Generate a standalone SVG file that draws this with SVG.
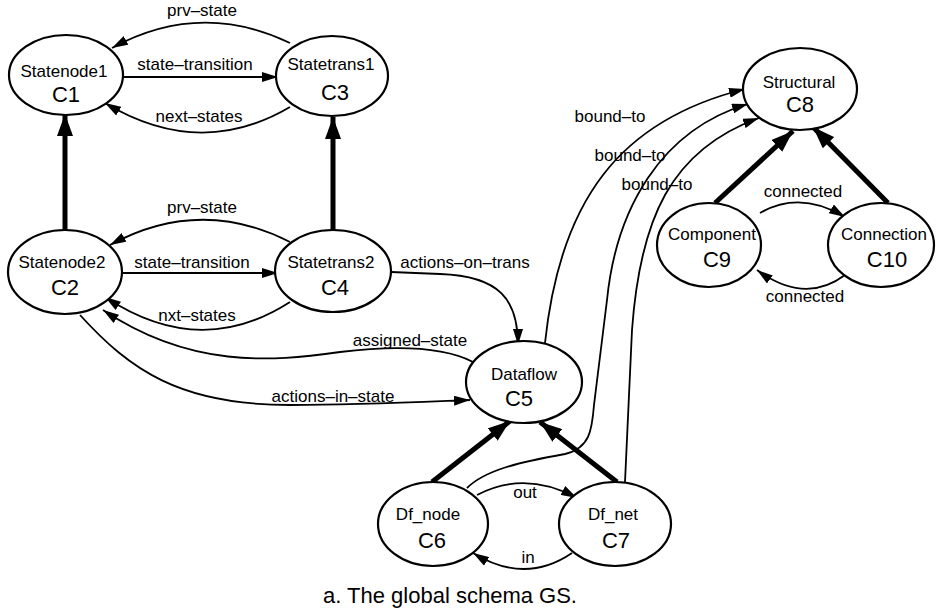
<svg xmlns="http://www.w3.org/2000/svg" width="936" height="614" viewBox="0 0 936 614">
  <style>
    .node ellipse { fill: #ffffff; stroke: #000000; stroke-width: 2.2; }
    .name { font-family: "Liberation Sans", Arial, Helvetica, sans-serif; font-size: 17px; fill: #000000; text-anchor: middle; }
    .code { font-family: "Liberation Sans", Arial, Helvetica, sans-serif; font-size: 22px; fill: #000000; text-anchor: middle; }
    .lbl { font-family: "Liberation Sans", Arial, Helvetica, sans-serif; font-size: 17px; fill: #000000; text-anchor: middle; }
    .cap { font-family: "Liberation Sans", Arial, Helvetica, sans-serif; font-size: 22px; fill: #000000; }
    .rel { fill: none; stroke: #000000; stroke-width: 1.8; marker-end: url(#arrow); }
    .isa { fill: none; stroke: #000000; stroke-width: 5; marker-end: url(#arrow-bold); }
  </style>
  <defs>
    <marker id="arrow" markerUnits="userSpaceOnUse" markerWidth="16" markerHeight="10" refX="16" refY="5" orient="auto">
      <path d="M0,0 L16,5 L0,10 z" fill="#000000"/>
    </marker>
    <marker id="arrow-bold" markerUnits="userSpaceOnUse" markerWidth="22" markerHeight="16" refX="22" refY="8" orient="auto">
      <path d="M0,0 L22,8 L0,16 z" fill="#000000"/>
    </marker>
  </defs>
  <rect x="0" y="0" width="936" height="614" fill="#ffffff"/>

  <!-- connectors -->
  <g id="connectors">
    <!-- generalisation links -->
    <path class="isa" d="M65 230 L65 114"/>
    <path class="isa" d="M333 230 L333 117"/>
    <path class="isa" d="M432 482 L510 421"/>
    <path class="isa" d="M617 482 L540 422"/>
    <path class="isa" d="M715 203 L793 131"/>
    <path class="isa" d="M888 203 L813 127"/>

    <!-- Statenode1 / Statetrans1 -->
    <path class="rel" d="M290 43 Q200 0 112 48"/>
    <path class="rel" d="M123 77 L278 77"/>
    <path class="rel" d="M290 107 Q200 160 105 103"/>

    <!-- Statenode2 / Statetrans2 -->
    <path class="rel" d="M290 242 Q200 196 110 245"/>
    <path class="rel" d="M122 273 L278 273"/>
    <path class="rel" d="M290 302 Q200 360 105 297"/>

    <!-- links to Dataflow -->
    <path class="rel" d="M391 272 L440 274 C500 276 518 300 518 345"/>
    <path class="rel" d="M473 362 C440 345 390 346 340 352 C270 362 190 368 103 310"/>
    <path class="rel" d="M80 315 C130 370 180 405 290 405 C360 405 420 402 470 400"/>

    <!-- bound-to links -->
    <path class="rel" d="M545 343 C560 200 620 120 745 89"/>
    <path class="rel" d="M467 488 C485 470 520 462 565 454 C590 448 592 430 594 405 L607 300 C616 210 660 130 748 104"/>
    <path class="rel" d="M625 482 L632 330 C640 220 670 150 759 118"/>

    <!-- Df_node / Df_net -->
    <path class="rel" d="M477 495 Q525 470 577 498"/>
    <path class="rel" d="M572 553 Q525 585 473 553"/>

    <!-- Component / Connection -->
    <path class="rel" d="M760 213 Q800 190 845 217"/>
    <path class="rel" d="M845 275 Q805 305 757 270"/>

    <!-- connector labels -->
    <text class="lbl" x="202" y="16">prv–state</text>
    <text class="lbl" x="195" y="70">state–transition</text>
    <text class="lbl" x="199" y="122">next–states</text>
    <text class="lbl" x="202" y="213">prv–state</text>
    <text class="lbl" x="192" y="268">state–transition</text>
    <text class="lbl" x="197" y="321">nxt–states</text>
    <text class="lbl" x="410" y="346">assigned–state</text>
    <text class="lbl" x="333" y="402">actions–in–state</text>
    <text class="lbl" x="465" y="268">actions–on–trans</text>
    <text class="lbl" x="610" y="122">bound–to</text>
    <text class="lbl" x="630" y="161">bound–to</text>
    <text class="lbl" x="657" y="190">bound–to</text>
    <text class="lbl" x="525" y="498">out</text>
    <text class="lbl" x="528" y="563">in</text>
    <text class="lbl" x="803" y="197">connected</text>
    <text class="lbl" x="805" y="302">connected</text>
  </g>

  <!-- nodes -->
  <g id="C1" class="node">
    <ellipse cx="66" cy="75" rx="57" ry="40"/>
    <text class="name" x="64" y="77">Statenode1</text>
    <text class="code" x="66" y="102">C1</text>
  </g>
  <g id="C3" class="node">
    <ellipse cx="332" cy="76" rx="56" ry="40"/>
    <text class="name" x="331" y="70">Statetrans1</text>
    <text class="code" x="335" y="100">C3</text>
  </g>
  <g id="C2" class="node">
    <ellipse cx="65" cy="272" rx="57" ry="42"/>
    <text class="name" x="62" y="268">Statenode2</text>
    <text class="code" x="65" y="295">C2</text>
  </g>
  <g id="C4" class="node">
    <ellipse cx="333" cy="271" rx="58" ry="41"/>
    <text class="name" x="331" y="268">Statetrans2</text>
    <text class="code" x="335" y="295">C4</text>
  </g>
  <g id="C5" class="node">
    <ellipse cx="524" cy="382" rx="58" ry="41"/>
    <text class="name" x="524" y="380">Dataflow</text>
    <text class="code" x="519" y="406">C5</text>
  </g>
  <g id="C6" class="node">
    <ellipse cx="433" cy="524" rx="55" ry="42"/>
    <text class="name" x="428" y="520">Df_node</text>
    <text class="code" x="432" y="548">C6</text>
  </g>
  <g id="C7" class="node">
    <ellipse cx="615" cy="524" rx="56" ry="42"/>
    <text class="name" x="613" y="520">Df_net</text>
    <text class="code" x="616" y="548">C7</text>
  </g>
  <g id="C8" class="node">
    <ellipse cx="800" cy="89" rx="57" ry="41"/>
    <text class="name" x="799" y="88">Structural</text>
    <text class="code" x="800" y="112">C8</text>
  </g>
  <g id="C9" class="node">
    <ellipse cx="709" cy="245" rx="52" ry="42"/>
    <text class="name" x="712" y="240">Component</text>
    <text class="code" x="717" y="267">C9</text>
  </g>
  <g id="C10" class="node">
    <ellipse cx="881" cy="245" rx="53" ry="42"/>
    <text class="name" x="884" y="240">Connection</text>
    <text class="code" x="887" y="267">C10</text>
  </g>

  <text class="cap" x="323" y="603">a. The global schema GS.</text>
</svg>
